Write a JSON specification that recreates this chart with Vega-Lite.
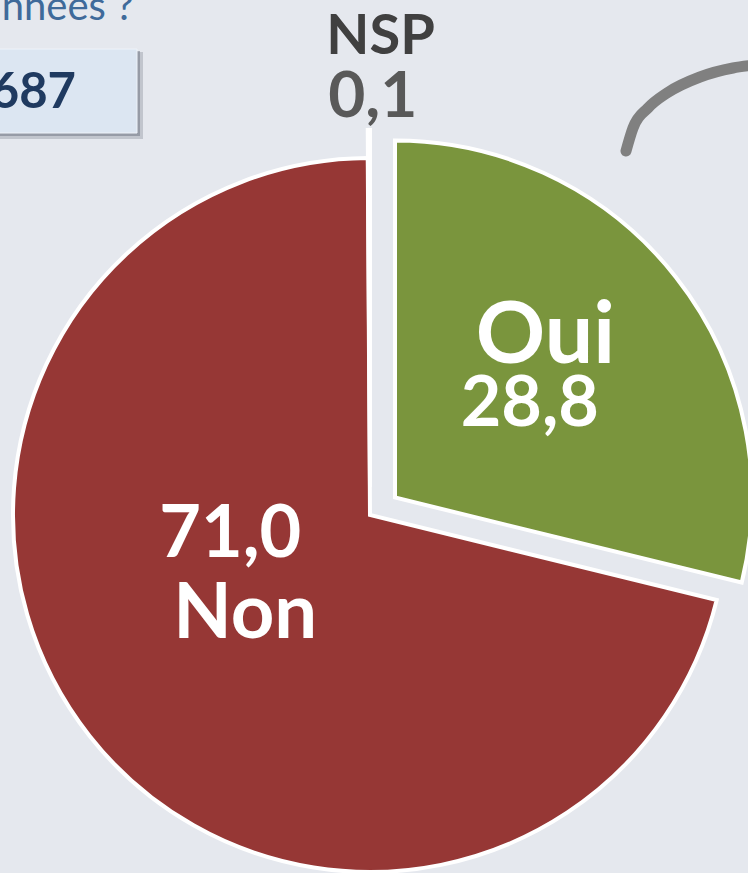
{
  "$schema": "https://vega.github.io/schema/vega-lite/v6.json",
  "width": 748,
  "height": 873,
  "autosize": {"type": "none"},
  "padding": 0,
  "background": "#e5e8ee",
  "config": {
    "view": {"stroke": null},
    "locale": {"number": {"decimal": ",", "thousands": " ", "grouping": [3], "currency": ["", " €"]}},
    "text": {"font": "Lato"}
  },
  "datasets": {
    "resultats": [
      {"reponse": "Oui", "pct": 28.8, "rang": 1},
      {"reponse": "Non", "pct": 71.0, "rang": 2},
      {"reponse": "NSP", "pct": 0.1, "rang": 3}
    ],
    "fleche": [
      {"px": 626, "py": 151},
      {"px": 633, "py": 128},
      {"px": 648, "py": 108},
      {"px": 667, "py": 93},
      {"px": 700, "py": 77},
      {"px": 733, "py": 68},
      {"px": 755, "py": 65}
    ]
  },
  "layer": [
    {
      "data": {"name": "fleche"},
      "mark": {"type": "line", "color": "#808080", "strokeWidth": 11, "strokeCap": "round", "interpolate": "monotone", "clip": true},
      "encoding": {
        "x": {"field": "px", "type": "quantitative", "scale": {"domain": [0, 748], "nice": false, "zero": false}, "axis": null},
        "y": {"field": "py", "type": "quantitative", "scale": {"domain": [0, 873], "nice": false, "zero": false, "reverse": true}, "axis": null}
      }
    },
    {
      "data": {"values": [{}]},
      "mark": {"type": "rect", "fill": "#7d8590", "opacity": 0.35},
      "encoding": {
        "x": {"datum": -10, "type": "quantitative", "scale": {"domain": [0, 748], "nice": false, "zero": false}, "axis": null},
        "x2": {"datum": 143},
        "y": {"datum": 52, "type": "quantitative", "scale": {"domain": [0, 873], "nice": false, "zero": false, "reverse": true}, "axis": null},
        "y2": {"datum": 139}
      }
    },
    {
      "data": {"values": [{}]},
      "mark": {"type": "rect", "fill": "#6b7280", "opacity": 0.5},
      "encoding": {
        "x": {"datum": -10, "type": "quantitative", "scale": {"domain": [0, 748], "nice": false, "zero": false}, "axis": null},
        "x2": {"datum": 140},
        "y": {"datum": 51, "type": "quantitative", "scale": {"domain": [0, 873], "nice": false, "zero": false, "reverse": true}, "axis": null},
        "y2": {"datum": 136}
      }
    },
    {
      "data": {"values": [{}]},
      "mark": {"type": "rect", "fill": "#dce6f2", "stroke": "#eef3f9", "strokeWidth": 1},
      "encoding": {
        "x": {"datum": -10, "type": "quantitative", "scale": {"domain": [0, 748], "nice": false, "zero": false}, "axis": null},
        "x2": {"datum": 137},
        "y": {"datum": 49, "type": "quantitative", "scale": {"domain": [0, 873], "nice": false, "zero": false, "reverse": true}, "axis": null},
        "y2": {"datum": 133}
      }
    },
    {
      "data": {"values": [{}]},
      "mark": {"type": "text", "text": "687", "align": "right", "baseline": "alphabetic", "font": "Lato", "fontWeight": "bold", "fontSize": 49, "color": "#1f3a60"},
      "encoding": {
        "x": {"datum": 76, "type": "quantitative", "scale": {"domain": [0, 748], "nice": false, "zero": false}, "axis": null},
        "y": {"datum": 108, "type": "quantitative", "scale": {"domain": [0, 873], "nice": false, "zero": false, "reverse": true}, "axis": null}
      }
    },
    {
      "data": {"values": [{}]},
      "mark": {"type": "text", "text": "années ?", "align": "right", "baseline": "alphabetic", "font": "Lato", "fontSize": 40, "color": "#3f6a9a"},
      "encoding": {
        "x": {"datum": 134, "type": "quantitative", "scale": {"domain": [0, 748], "nice": false, "zero": false}, "axis": null},
        "y": {"datum": 20, "type": "quantitative", "scale": {"domain": [0, 873], "nice": false, "zero": false, "reverse": true}, "axis": null}
      }
    },
    {
      "data": {"name": "resultats"},
      "encoding": {
        "theta": {"field": "pct", "type": "quantitative", "stack": true},
        "order": {"field": "rang", "type": "quantitative"}
      },
      "layer": [
        {
          "mark": {"type": "arc", "outerRadius": 357, "stroke": "#ffffff", "strokeWidth": 4, "xOffset": -4, "yOffset": 78.5},
          "encoding": {
            "color": {"field": "reponse", "type": "nominal", "scale": {"domain": ["Oui", "Non", "NSP"], "range": ["#7a953d", "#963735", "#ffffff"]}, "legend": null},
            "opacity": {"condition": {"test": "datum.reponse === 'Non'", "value": 1}, "value": 0}
          }
        },
        {
          "mark": {"type": "arc", "outerRadius": 357, "stroke": "#ffffff", "strokeWidth": 4, "xOffset": 21, "yOffset": 61},
          "encoding": {
            "color": {"field": "reponse", "type": "nominal", "legend": null},
            "opacity": {"condition": {"test": "datum.reponse === 'Oui'", "value": 1}, "value": 0}
          }
        },
        {
          "mark": {"type": "arc", "outerRadius": 357, "stroke": "#ffffff", "strokeWidth": 4, "xOffset": -4, "yOffset": 50.5},
          "encoding": {
            "color": {"field": "reponse", "type": "nominal", "legend": null},
            "opacity": {"condition": {"test": "datum.reponse === 'NSP'", "value": 1}, "value": 0}
          }
        },
        {
          "mark": {"type": "text", "radius": 200, "dx": 14, "dy": 50, "align": "center", "baseline": "alphabetic", "font": "Lato", "fontWeight": "bold", "fontSize": 86, "color": "#ffffff"},
          "encoding": {
            "text": {"field": "reponse", "type": "nominal"},
            "opacity": {"condition": {"test": "datum.reponse === 'Oui'", "value": 1}, "value": 0}
          }
        },
        {
          "mark": {"type": "text", "radius": 151, "dx": 37, "dy": 83, "align": "center", "baseline": "alphabetic", "font": "Lato", "fontWeight": "bold", "fontSize": 70, "color": "#ffffff"},
          "encoding": {
            "text": {"field": "pct", "type": "quantitative", "format": ".1f"},
            "opacity": {"condition": {"test": "datum.reponse === 'Oui'", "value": 1}, "value": 0}
          }
        },
        {
          "mark": {"type": "text", "radius": 150, "dx": -26, "dy": 27.5, "align": "center", "baseline": "alphabetic", "font": "Lato", "fontWeight": "bold", "fontSize": 72, "color": "#ffffff"},
          "encoding": {
            "text": {"field": "pct", "type": "quantitative", "format": ".1f"},
            "opacity": {"condition": {"test": "datum.reponse === 'Non'", "value": 1}, "value": 0}
          }
        },
        {
          "mark": {"type": "text", "radius": 150, "dx": -11, "dy": 108.5, "align": "center", "baseline": "alphabetic", "font": "Lato", "fontWeight": "bold", "fontSize": 76, "color": "#ffffff"},
          "encoding": {
            "text": {"field": "reponse", "type": "nominal"},
            "opacity": {"condition": {"test": "datum.reponse === 'Non'", "value": 1}, "value": 0}
          }
        },
        {
          "mark": {"type": "text", "radius": 433, "dx": 8, "dy": 50.5, "align": "center", "baseline": "alphabetic", "font": "Lato", "fontWeight": "bold", "fontSize": 56, "color": "#404040"},
          "encoding": {
            "text": {"field": "reponse", "type": "nominal"},
            "opacity": {"condition": {"test": "datum.reponse === 'NSP'", "value": 1}, "value": 0}
          }
        },
        {
          "mark": {"type": "text", "radius": 370, "dx": 0, "dy": 50.5, "align": "center", "baseline": "alphabetic", "font": "Lato", "fontWeight": "bold", "fontSize": 64, "color": "#595959"},
          "encoding": {
            "text": {"field": "pct", "type": "quantitative", "format": ".1f"},
            "opacity": {"condition": {"test": "datum.reponse === 'NSP'", "value": 1}, "value": 0}
          }
        }
      ]
    }
  ]
}
